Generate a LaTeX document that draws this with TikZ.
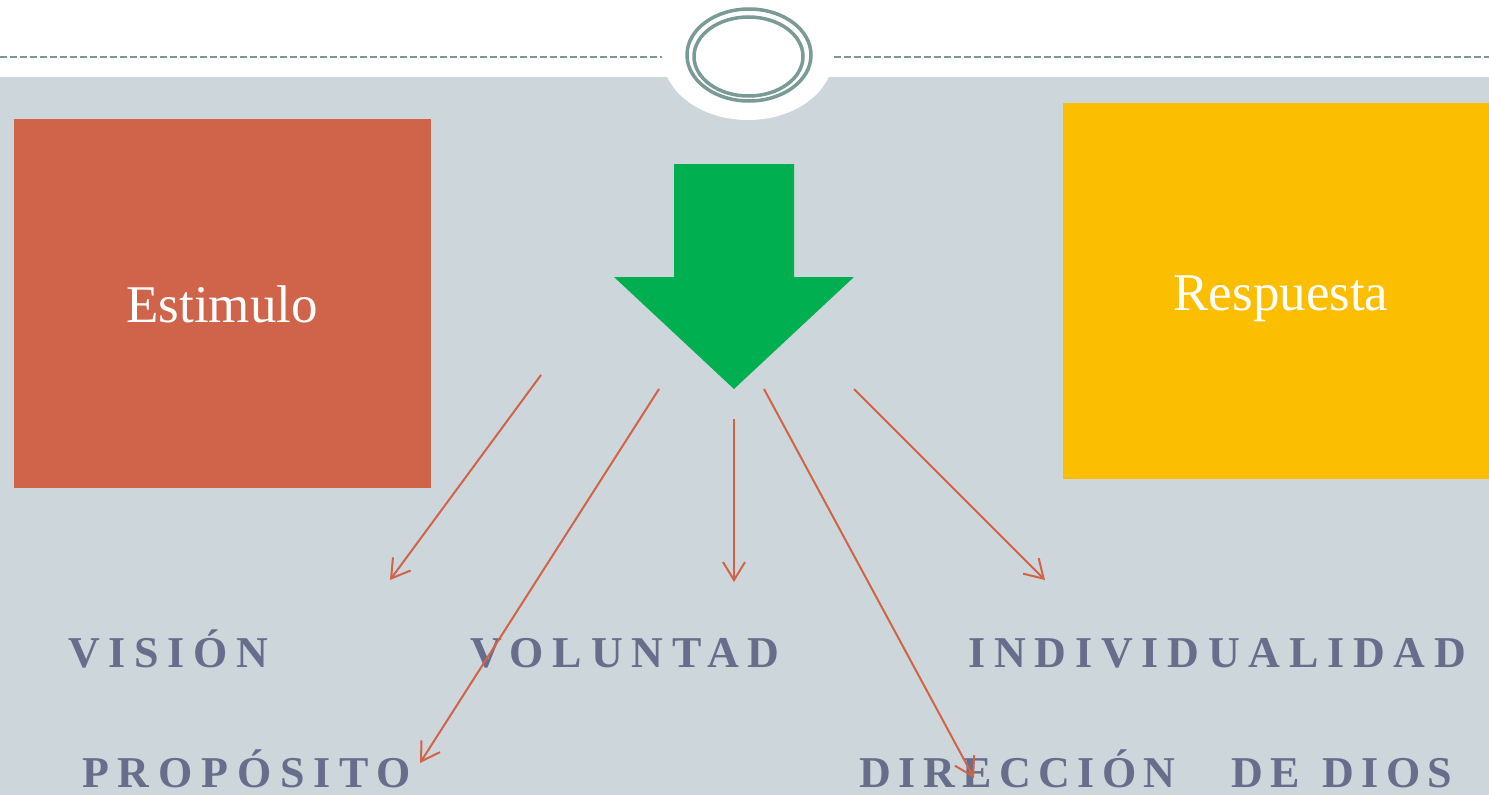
\documentclass[tikz,border=0pt]{standalone}
\usepackage{fontspec}
\setmainfont{Liberation Serif}
\newfontfamily\labelfont[LetterSpace=20]{Liberation Serif}
\newfontfamily\labelfontb[LetterSpace=17]{Liberation Serif}
\usetikzlibrary{arrows.meta}
\definecolor{bgc}{RGB}{204,214,219}
\definecolor{ringc}{RGB}{122,154,150}
\definecolor{estc}{RGB}{208,100,74}
\definecolor{resc}{RGB}{252,190,0}
\definecolor{greenc}{RGB}{0,176,80}
\definecolor{labc}{RGB}{102,110,140}
\definecolor{redc}{RGB}{210,98,72}
\tikzset{
  dashline/.style={draw=ringc, line width=2pt, dash pattern=on 7pt off 3pt},
  ring/.style={draw=ringc, line width=3.5pt},
  bigbox/.style={draw=none, inner sep=0pt, minimum width=#1},
  boxtext/.style={text=white, font=\fontsize{53}{60}\selectfont, inner sep=0pt, anchor=base},
  lab/.style={text=labc, font=\labelfont\bfseries\fontsize{44}{50}\selectfont, inner sep=0pt, anchor=base west},
  labb/.style={lab, font=\labelfontb\bfseries\fontsize{44}{50}\selectfont},
  rarrow/.style={draw=redc, line width=2pt, -{Straight Barb[length=18pt,width=22pt]}}
}
\begin{document}
\begin{tikzpicture}[x=1pt,y=-1pt]
\useasboundingbox (0,0) rectangle (1489,795);
\fill[white] (0,0) rectangle (1489,795);
\fill[bgc] (0,77) rectangle (1489,795);
\fill[white] (748,57) ellipse [x radius=85pt, y radius=63pt];
\coordinate (dl1) at (0,57);
\coordinate (dl2) at (662,57);
\coordinate (dr1) at (834,57);
\coordinate (dr2) at (1489,57);
\draw[dashline] (dl1) -- (dl2);
\draw[dashline] (dr1) -- (dr2);
\draw[ring] (749,55) ellipse [x radius=62pt, y radius=46pt];
\draw[ring] (748.5,56.5) ellipse [x radius=54.5pt, y radius=39.5pt];
% boxes
\node[bigbox=417pt, fill=estc, minimum height=369pt] (est) at (222.5,303.5) {};
\node[bigbox=426pt, fill=resc, minimum height=376pt] (res) at (1276,291) {};
\node[boxtext] (estt) at (222,322) {Estimulo};
\node[boxtext] (rest) at (1281,310) {Respuesta};
% green arrow
\fill[greenc] (674,164) -- (794,164) -- (794,277) -- (854,277) -- (734,389) -- (614,277) -- (674,277) -- cycle;
% labels
\node[lab] (vis) at (68,667) {VISIÓN};
\node[lab] (vol) at (470,667) {VOLUNTAD};
\node[lab] (ind) at (968,667) {INDIVIDUALIDAD};
\node[lab] (pro) at (82,787) {PROPÓSITO};
\node[labb] (dir) at (859,787) {DIRECCIÓN\hspace{56pt}DE\hspace{22pt}DIOS};
% red arrows
\coordinate (s1) at (541,375); \coordinate (e1) at (390,580);
\coordinate (s2) at (659,389); \coordinate (e2) at (420,763);
\coordinate (s3) at (734,419); \coordinate (e3) at (734,582);
\coordinate (s4) at (764,389); \coordinate (e4) at (974,778);
\coordinate (s5) at (854,389); \coordinate (e5) at (1045,580);
\draw[rarrow] (s1) -- (e1);
\draw[rarrow] (s2) -- (e2);
\draw[rarrow] (s3) -- (e3);
\draw[rarrow] (s4) -- (e4);
\draw[rarrow] (s5) -- (e5);
\end{tikzpicture}
\end{document}
